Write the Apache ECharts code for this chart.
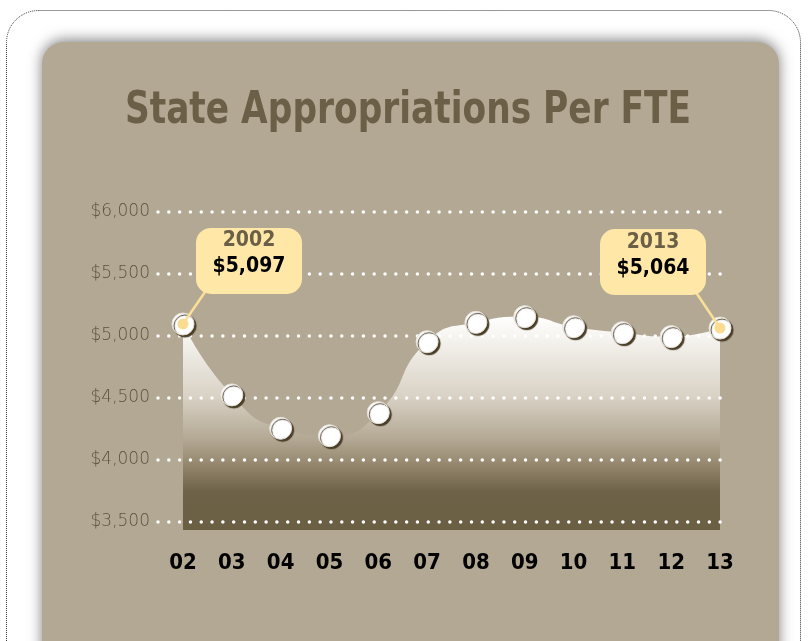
<!DOCTYPE html>
<html>
<head>
<meta charset="utf-8">
<script src="https://cdn.jsdelivr.net/npm/echarts@6/dist/echarts.min.js"></script>
<style>
  html, body { margin: 0; padding: 0; background: #ffffff; }
  #chart { width: 809px; height: 641px; }
</style>
</head>
<body>
<div id="chart"></div>
<script>
const years = ["02", "03", "04", "05", "06", "07", "08", "09", "10", "11", "12", "13"];
const perFte = [5097, 4525, 4256, 4196, 4382, 4954, 5110, 5156, 5075, 5027, 4995, 5064];
const calloutIndex = [0, 11];
const yMin = 3500;
const yMax = 6000;
const yStep = 500;

const FONT = '"DejaVu Sans Condensed", sans-serif';
const BROWN = "#6b6047";

const chart = echarts.init(document.getElementById("chart"));

const calloutData = calloutIndex.map((i) => ({
  value: [years[i], perFte[i]],
  year: "20" + years[i],
}));

const option = {
  animation: false,
  backgroundColor: "#ffffff",
  graphic: [
    {
      type: "rect",
      z: -20,
      shape: { x: 6.5, y: 10.5, width: 794, height: 720, r: 32 },
      style: { fill: "#ffffff", stroke: "#333333", lineWidth: 1, lineDash: [1, 1] },
    },
    {
      type: "rect",
      z: -10,
      shape: { x: 42, y: 42, width: 737, height: 720, r: 22 },
      style: {
        fill: "#b3a893",
        shadowBlur: 14,
        shadowOffsetY: -2,
        shadowColor: "rgba(0,0,0,0.5)",
      },
    },
    {
      // condensed heavy title, squeezed horizontally like the original face
      type: "text",
      z: 1,
      x: 408,
      y: 89,
      scaleX: 0.85,
      style: {
        text: "State Appropriations Per FTE",
        fontFamily: FONT,
        fontSize: 45,
        fontWeight: "bold",
        fill: BROWN,
        align: "center",
        verticalAlign: "top",
      },
    },
  ],
  grid: [
    // dotted guide lines + dollar labels
    { left: 158, right: 85, top: 212, bottom: 119 },
    // area and markers
    { left: 183, right: 89, top: 212, bottom: 111 },
  ],
  xAxis: [
    { gridIndex: 0, type: "category", data: years, show: false },
    {
      gridIndex: 1,
      type: "category",
      data: years,
      boundaryGap: false,
      axisLine: { show: false },
      axisTick: { show: false },
      axisLabel: {
        margin: 22,
        fontFamily: FONT,
        fontSize: 22,
        fontWeight: "bold",
        color: "#000000",
      },
    },
  ],
  yAxis: [
    {
      gridIndex: 0,
      type: "value",
      min: yMin,
      max: yMax,
      interval: yStep,
      z: 3,
      axisLine: { show: false },
      axisTick: { show: false },
      axisLabel: {
        margin: 8,
        fontFamily: '"DejaVu Sans", sans-serif',
        fontWeight: 200,
        fontSize: 17,
        color: "#5b5240",
        formatter: (v) => "$" + v.toLocaleString("en-US"),
      },
      splitLine: {
        lineStyle: { color: "#ffffff", width: 3.5, type: [0.01, 10.8], cap: "round" },
      },
    },
    {
      gridIndex: 1,
      type: "value",
      min: yMin - (8 / 310) * (yMax - yMin),
      max: yMax,
      show: false,
      splitLine: { show: false },
    },
  ],
  series: [
    {
      type: "line",
      xAxisIndex: 1,
      yAxisIndex: 1,
      z: 2,
      data: perFte,
      smooth: 0.55,
      showSymbol: false,
      lineStyle: { width: 0 },
      areaStyle: {
        origin: "start",
        opacity: 1,
        color: {
          type: "linear",
          global: true,
          x: 0, y: 316, x2: 0, y2: 530,
          colorStops: [
            { offset: 0, color: "#ffffff" },
            { offset: 0.1, color: "#f6f4f0" },
            { offset: 0.38, color: "#d8d1c4" },
            { offset: 0.58, color: "#b2a792" },
            { offset: 0.68, color: "#988b72" },
            { offset: 0.82, color: "#6e6248" },
            { offset: 1, color: "#6a5e43" },
          ],
        },
      },
    },
    {
      type: "scatter",
      xAxisIndex: 1,
      yAxisIndex: 1,
      z: 4,
      data: perFte,
      symbolSize: 22,
      itemStyle: {
        opacity: 1,
        color: "#ffffff",
        borderColor: "#e4e0d8",
        borderWidth: 1,
        shadowColor: "rgba(72,60,38,1)",
        shadowOffsetX: 2,
        shadowOffsetY: 2,
        shadowBlur: 1,
      },
    },
    {
      type: "scatter",
      xAxisIndex: 1,
      yAxisIndex: 1,
      z: 6,
      data: calloutData,
      symbolSize: 11,
      itemStyle: { opacity: 1, color: "#f9dc90" },
      label: {
        show: true,
        position: "inside",
        formatter: (p) => "{y|" + p.data.year + "}\n{v|$" + p.data.value[1].toLocaleString("en-US") + "}",
        backgroundColor: "#fee7a7",
        borderRadius: 15,
        width: 106,
        height: 66,
        padding: 0,
        align: "center",
        verticalAlign: "middle",
        rich: {
          y: { fontFamily: FONT, fontSize: 21, fontWeight: "bold", color: BROWN, lineHeight: 26, align: "center" },
          v: { fontFamily: FONT, fontSize: 21, fontWeight: "bold", color: "#000000", lineHeight: 26, align: "center" },
        },
      },
      labelLayout: (params) =>
        params.dataIndex === 0 ? { dx: 66, dy: -63 } : { dx: -67, dy: -66 },
    },
  ],
};

chart.setOption(option);

// leader lines from the two end markers up to their callout boxes
const leaderOffsets = [[22, -32], [-25, -37]];
const leaders = calloutIndex.map((i, k) => {
  const p = chart.convertToPixel({ xAxisIndex: 1, yAxisIndex: 1 }, [years[i], perFte[i]]);
  return {
    type: "line",
    z: 5,
    shape: { x1: p[0], y1: p[1], x2: p[0] + leaderOffsets[k][0], y2: p[1] + leaderOffsets[k][1] },
    style: { stroke: "#fbdf98", lineWidth: 2.5 },
  };
});
chart.setOption({ graphic: option.graphic.concat(leaders) });
</script>
</body>
</html>
